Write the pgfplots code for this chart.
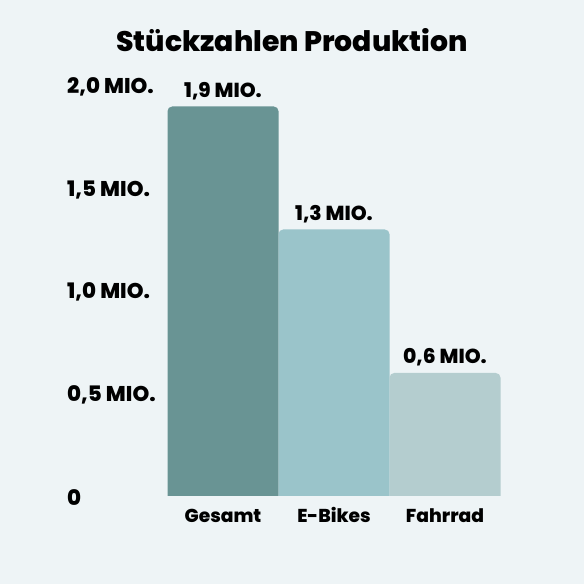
\documentclass[border=0pt]{standalone}
\usepackage{pgfplots}
\pgfplotsset{compat=1.18}
\usepackage{fontspec}
\setmainfont{Poppins}[BoldFont={Poppins ExtraBold}]
\definecolor{bg}{HTML}{EEF4F6}
\definecolor{cA}{HTML}{699494}
\definecolor{cB}{HTML}{9AC4CA}
\definecolor{cC}{HTML}{B4CDCF}
\begin{document}
\begin{tikzpicture}
\fill[bg] (0pt,0pt) rectangle (438pt,438pt);
\node[font=\bfseries\fontsize{21.2}{24}\selectfont, text=black] at (219pt,408pt) {Stückzahlen Produktion};
\begin{axis}[
  at={(125.625pt,66pt)}, anchor=south west,
  scale only axis, width=249.75pt, height=307.5pt,
  xmin=-0.5, xmax=2.5, ymin=0, ymax=2.0,
  axis line style={draw=none},
  major tick length=0pt,
  xtick={0,1,2}, xticklabels={Gesamt,E-Bikes,Fahrrad},
  ytick={0,0.5,1,1.5,2},
  yticklabels={0,{0,5 MIO.},{1,0 MIO.},{1,5 MIO.},{2,0 MIO.}},
  yticklabel style={anchor=west, inner sep=0pt, xshift=-75.4pt, yshift=-1pt, font=\bfseries\fontsize{16}{18}\selectfont},
  xticklabel style={font=\bfseries\fontsize{14}{16}\selectfont, anchor=base, inner sep=0pt, yshift=-20pt},
  clip=true,
  nodes near coords style={font=\bfseries\fontsize{15.2}{17}\selectfont, anchor=base, inner sep=0pt, yshift=7pt},
]
\addplot[fill=cA, draw=none, rounded corners=3.5pt] coordinates {(-0.5,-0.1) (-0.5,1.9) (0.5,1.9) (0.5,-0.1)} -- cycle;
\addplot[fill=cB, draw=none, rounded corners=3.5pt] coordinates {(0.5,-0.1) (0.5,1.3) (1.5,1.3) (1.5,-0.1)} -- cycle;
\addplot[fill=cC, draw=none, rounded corners=3.5pt] coordinates {(1.5,-0.1) (1.5,0.6) (2.5,0.6) (2.5,-0.1)} -- cycle;
\addplot[draw=none, mark=none, nodes near coords, point meta=explicit symbolic]
  coordinates {(0,1.9)[1,9 MIO.] (1,1.3)[1,3 MIO.] (2,0.6)[0,6 MIO.]};
\end{axis}
\end{tikzpicture}
\end{document}
